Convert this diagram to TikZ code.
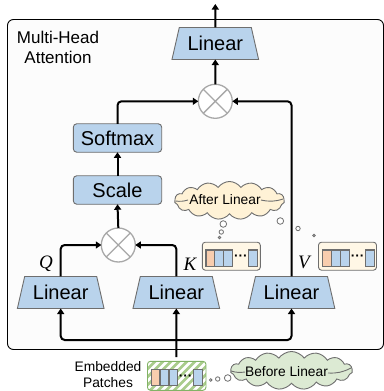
\documentclass[tikz,border=0pt]{standalone}
\usepackage{fontspec}
\setmainfont{Liberation Sans}
\newfontfamily\symfont{Liberation Serif}
\usetikzlibrary{arrows.meta,shapes.geometric,shapes.symbols}
\definecolor{blueFill}{HTML}{B9D3EC}
\definecolor{orangeFill}{HTML}{F8CDAE}
\definecolor{yellowFill}{HTML}{FFF2D6}
\definecolor{tokenFill}{HTML}{FFF7E6}
\definecolor{greenFill}{HTML}{DCEAD3}
\definecolor{greenEdge}{HTML}{82B366}
\definecolor{hatchGreen}{HTML}{A9CC8C}
\definecolor{edgeGray}{HTML}{6E6E6E}
\definecolor{ringGray}{HTML}{A8A8A8}
\tikzset{
  every node/.style={inner sep=0pt,outer sep=0pt,text=black},
  arr/.style={draw=black,line width=2pt,rounded corners=4pt,-{Triangle[length=5.5pt,width=7pt]}},
  trapbox/.style={trapezium,trapezium stretches=true,trapezium left angle=69,trapezium right angle=69,
     minimum width=87pt,minimum height=32pt,draw=edgeGray,line width=.9pt,fill=blueFill,font=\fontsize{20}{22}\selectfont},
  stepbox/.style={rectangle,rounded corners=3.5pt,minimum width=88.4pt,minimum height=28.5pt,draw=edgeGray,line width=.9pt,fill=blueFill,font=\fontsize{20}{22}\selectfont},
  ring/.style={circle,minimum size=34pt,draw=ringGray,line width=1.3pt,fill=white,
     path picture={\draw[ringGray,line width=1.3pt]
       (path picture bounding box.north west)--(path picture bounding box.south east)
       (path picture bounding box.north east)--(path picture bounding box.south west);}},
  smalltext/.style={font=\fontsize{13.8}{16}\selectfont,align=center},
  varlabel/.style={font=\symfont\itshape\fontsize{19}{21}\selectfont},
  thought/.style={cloud,cloud puffs=15,cloud puff arc=110,cloud ignores aspect,draw=edgeGray,line width=.9pt},
  wisp/.style={draw=edgeGray,line width=.9pt},
  bubble/.style={circle,draw=edgeGray,line width=.8pt,fill=white},
  tokenbox/.style={rectangle,rounded corners=3pt,minimum width=58pt,minimum height=28pt,draw=edgeGray,line width=.9pt,fill=tokenFill},
  cell/.style={rectangle,minimum width=8.8pt,minimum height=16.6pt,draw=edgeGray,line width=1.1pt,fill=blueFill},
  orangecell/.style={cell,fill=orangeFill},
  tokendots/.style={font=\fontsize{13.5}{14}\selectfont\bfseries},
}
\begin{document}
\begin{tikzpicture}[x=1pt,y=-1pt]
\useasboundingbox (0,0) rectangle (383,391);
\fill[white] (0,0) rectangle (383,391);
% outer frame
\draw[black,line width=.9pt,fill={rgb,255:red,252;green,252;blue,252},rounded corners=6pt] (7.5,19.5) rectangle (383.5,349.5);
\node[align=center,font=\fontsize{17}{20.5}\selectfont] (title) at (58,47.5) {Multi-Head\\Attention};

% main blocks
\node[trapbox] (ltop) at (215.3,43.5) {Linear};
\node[ring] (ctop) at (215.3,101.3) {};
\node[stepbox] (soft) at (117.5,138) {Softmax};
\node[stepbox] (scale) at (117.5,190) {Scale};
\node[ring] (clow) at (118.3,245) {};
\node[trapbox] (lq) at (60.7,292.5) {Linear};
\node[trapbox] (lk) at (176.3,292.5) {Linear};
\node[trapbox] (lv) at (291.5,292.5) {Linear};

\node[varlabel] (q) at (46,264) {Q};
\node[varlabel] (k) at (190,264) {K};
\node[varlabel] (v) at (304,262) {V};

% clouds
\node[thought,fill=yellowFill,minimum width=110pt,minimum height=38pt] (after) at (229.5,200.5) {};
\draw[wisp] (175.5,201) to[bend right=12] (188,200);
\draw[wisp] (283,199) to[bend left=15] (261,200);
\node[smalltext] (aftertext) at (225,200) {After Linear};
\node[thought,fill=greenFill,minimum width=122pt,minimum height=38pt] (before) at (291.5,370.5) {};
\draw[wisp] (231,371) to[bend right=12] (245,372);
\draw[wisp] (351,368) to[bend left=15] (328,373);
\node[smalltext] (beforetext) at (286.5,372) {Before Linear};
\node[bubble,minimum size=6.6pt] (a1) at (223.3,224) {};
\node[bubble,minimum size=4.4pt] (a2) at (221.3,232) {};
\node[bubble,minimum size=2.6pt] (a3) at (219.5,237.5) {};
\node[bubble,minimum size=6.6pt] (b1) at (280.3,221) {};
\node[bubble,minimum size=4.4pt] (b2) at (298,228.5) {};
\node[bubble,minimum size=2.6pt] (b3) at (314,235.5) {};
\node[bubble,minimum size=2.6pt] (c1) at (210.7,380) {};
\node[bubble,minimum size=4.4pt] (c2) at (217.7,379) {};
\node[bubble,minimum size=6.6pt] (c3) at (227.7,378) {};

% token boxes
\node[tokenbox] (tk) at (231.3,256.2) {};
\node[orangecell] (tk1) at (210.4,258.3) {};
\node[cell] (tk2) at (219.2,258.3) {};
\node[cell] (tk3) at (228,258.3) {};
\node[tokendots] (tkd) at (240.8,258) {···};
\node[cell] (tk4) at (253.2,258.3) {};

\node[tokenbox] (tv) at (347.5,256.2) {};
\node[orangecell] (tv1) at (327.3,258.3) {};
\node[cell] (tv2) at (336,258.3) {};
\node[cell] (tv3) at (344.8,258.3) {};
\node[tokendots] (tvd) at (357.5,258) {···};
\node[cell] (tv4) at (369.8,258.3) {};

% embedded patches
\node[smalltext] (emb) at (108,375) {Embedded\\Patches};
\node[tokenbox,fill=white,draw=greenEdge,minimum width=58.5pt,minimum height=29pt,
      path picture={\foreach \hx in {-72,-64,...,32}{\draw[hatchGreen,line width=2.8pt] (\hx,20)--(\hx+40,-20);}}] (tp) at (176.7,375.8) {};
\node[orangecell] (tp1) at (155.5,377.4) {};
\node[cell] (tp2) at (164.5,377.4) {};
\node[cell] (tp3) at (173.5,377.4) {};
\node[tokendots] (tpd) at (185.7,377.4) {···};
\node[cell] (tp4) at (198,377.4) {};

% connectors
\coordinate (src) at (176.3,357);
\coordinate (junction) at (176.3,340);
\coordinate (topout) at (215.3,4);
\draw[arr] (src) -- (lk.south);
\draw[arr] (junction) -| (lq.south);
\draw[arr] (junction) -| (lv.south);
\draw[arr] (lq.north) |- (clow.west);
\draw[arr] (lk.north) |- (clow.east);
\draw[arr] (clow.north) -- (scale.south);
\draw[arr] (scale.north) -- (soft.south);
\draw[arr] (soft.north) |- (ctop.west);
\draw[arr] (lv.north) |- (ctop.east);
\draw[arr] (ctop.north) -- (ltop.south);
\draw[arr] (ltop.north) -- (topout);
\end{tikzpicture}
\end{document}
